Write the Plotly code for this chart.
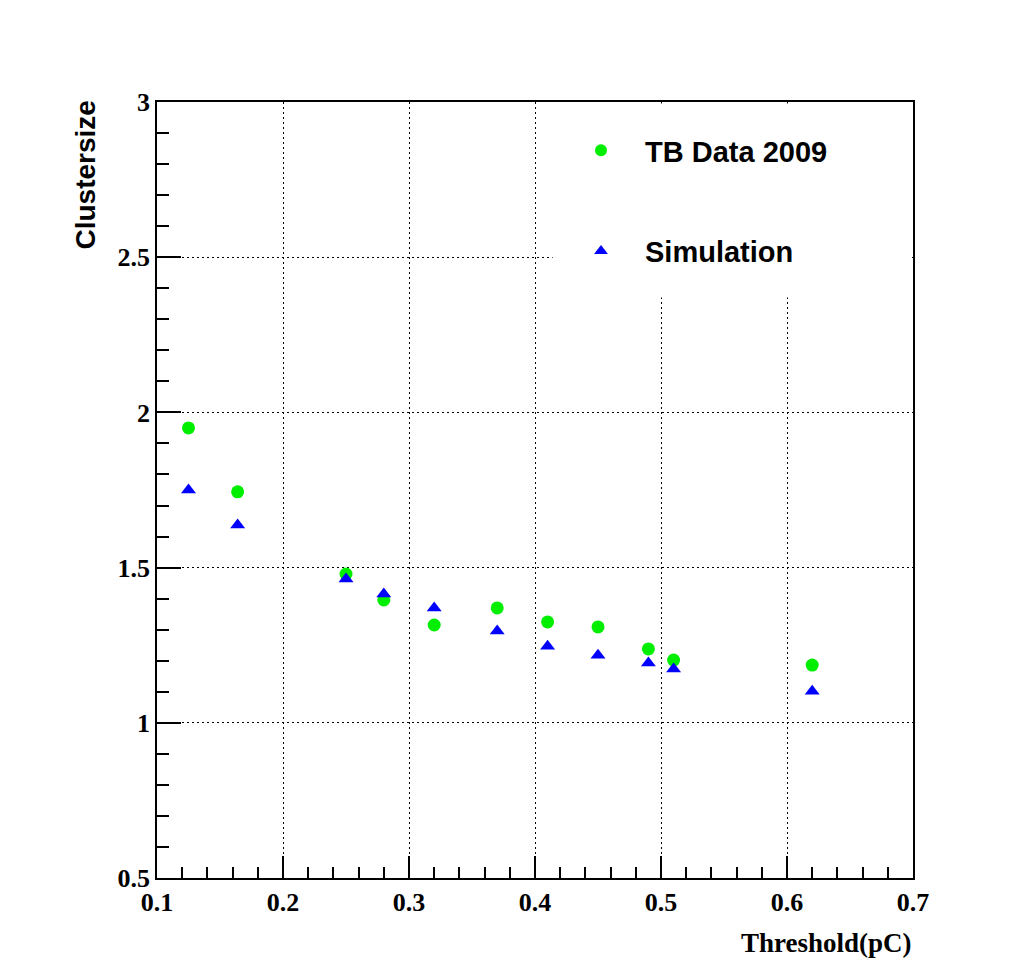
import plotly.graph_objects as go

threshold = [0.125, 0.164, 0.25, 0.28, 0.32, 0.37, 0.41, 0.45, 0.49, 0.51, 0.62]
tb_data_2009 = [1.950, 1.744, 1.479, 1.396, 1.315, 1.370, 1.325, 1.309, 1.238, 1.202, 1.186]
simulation = [1.750, 1.637, 1.463, 1.415, 1.370, 1.296, 1.247, 1.218, 1.193, 1.173, 1.102]

x_ticks = [0.1, 0.2, 0.3, 0.4, 0.5, 0.6, 0.7]
y_ticks = [0.5, 1, 1.5, 2, 2.5, 3]

# page body has an 8px margin; figure is sized to fill the window inside it
OFF = 8
W, H = 1019 - 2 * OFF, 978 - 2 * OFF
L, T = 157 - OFF, 102 - OFF
R = 1019 - 913 - OFF
B = 978 - 878 - OFF
pw, ph = W - L - R, H - T - B

def px_x(p):
    return (p - OFF - L) / pw

def px_y(p):
    return (H - B - (p - OFF)) / ph

fig = go.Figure()
fig.add_trace(go.Scatter(
    x=threshold, y=tb_data_2009, mode="markers", name="TB Data 2009",
    legendgroup="a",
    marker=dict(symbol="circle", size=13, color="#00ee00"),
))
fig.add_trace(go.Scatter(
    x=threshold, y=simulation, mode="markers", name="Simulation",
    legendgroup="b",
    marker=dict(symbol="triangle-up", size=13, color="#0000ff"),
))

tickfont = dict(family="Liberation Serif", size=26, color="black", weight="bold")

fig.update_xaxes(
    range=[0.1, 0.7], tickvals=x_ticks, ticktext=[f"{v:g}" for v in x_ticks],
    ticks="inside", ticklen=22, tickwidth=1.5, tickcolor="black",
    showline=True, linecolor="black", linewidth=1.5, mirror=True,
    showgrid=True, gridcolor="black", gridwidth=1, griddash="2px,3px",
    zeroline=False, tickfont=tickfont,
    minor=dict(dtick=0.02, tick0=0.1, ticks="inside", ticklen=11,
               tickwidth=1.5, tickcolor="black", showgrid=False),
)
fig.update_yaxes(
    range=[0.5, 3], tickvals=y_ticks, ticktext=[f"{v:g}" for v in y_ticks],
    ticks="inside", ticklen=24, tickwidth=1.5, tickcolor="black",
    showline=True, linecolor="black", linewidth=1.5, mirror=True,
    showgrid=True, gridcolor="black", gridwidth=1, griddash="2px,3px",
    zeroline=False, tickfont=tickfont,
    minor=dict(dtick=0.1, tick0=0.5, ticks="inside", ticklen=12,
               tickwidth=1.5, tickcolor="black", showgrid=False),
)

shapes = [
    # legend box (white, hides grid)
    dict(type="rect", xref="x", yref="y", layer="between",
         x0=0.414, x1=0.6985, y0=2.37, y1=2.995,
         fillcolor="white", line=dict(width=0)),
]

annotations = [
    dict(text="<b>Clustersize</b>", xref="paper", yref="paper",
         x=px_x(85), y=px_y(99), xanchor="center", yanchor="top",
         textangle=-90, showarrow=False,
         font=dict(family="Liberation Sans", size=28, color="black")),
    dict(text="<b>Threshold(pC)</b>", xref="paper", yref="paper",
         x=px_x(914), y=px_y(943), xanchor="right", yanchor="middle",
         showarrow=False,
         font=dict(family="Liberation Serif", size=27, color="black")),
]

fig.update_layout(
    width=W, height=H,
    margin=dict(l=L, r=R, t=T, b=B),
    paper_bgcolor="white", plot_bgcolor="white",
    shapes=shapes, annotations=annotations,
    showlegend=True,
    legend=dict(
        x=px_x(557), y=px_y(125), xanchor="left", yanchor="top",
        bgcolor="rgba(0,0,0,0)", borderwidth=0,
        font=dict(family="Liberation Sans", size=29, color="black", weight="bold"),
        tracegroupgap=60, traceorder="grouped", itemsizing="constant",
        itemwidth=78,
    ),
)

fig.write_html("out.html")
